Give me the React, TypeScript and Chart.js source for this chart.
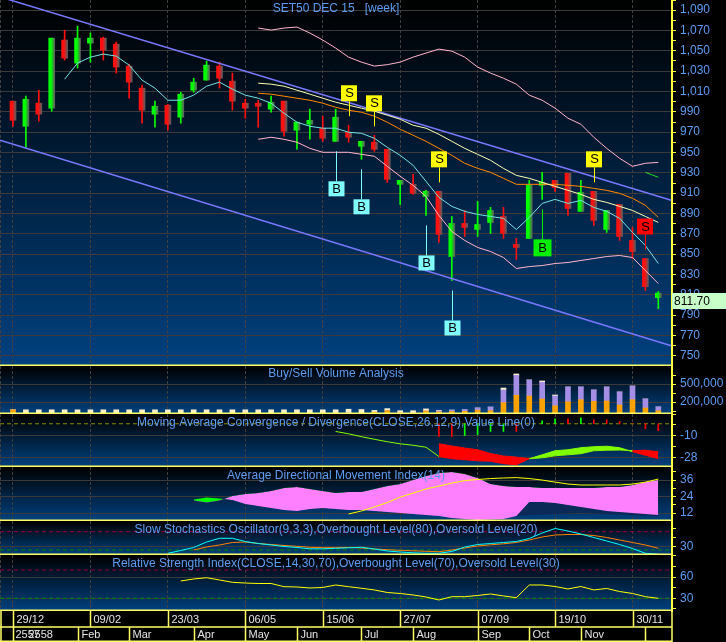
import React, { useEffect, useRef } from 'react';
import { Chart, registerables } from 'chart.js';

Chart.register(...registerables);

const FONT = "'Liberation Sans', Arial, Helvetica, sans-serif";
const W = 726;
const AXIS_W = 54;
const YELLOW = '#ffff40';
const SEP = '#ffff66';
const GRID = '#3a3a3a';
const GRID_V = '#404040';
const LABEL = '#5b9cf0';

// ---------------- time axis ----------------
const X_MIN = -1.007;
const X_MAX = 51.06;
const gridWeeks = [-1, 0, 6, 12, 18, 24, 30, 36, 42, 48];
const dateWeeks = [0, 6, 12, 18, 24, 30, 36, 42, 48];
const dateLabels = ['29/12', '09/02', '23/03', '06/05', '15/06', '27/07', '07/09', '19/10', '30/11'];
const monthWeeks = [0, 5, 9, 14, 18, 22, 27, 31, 36, 40, 44, 49];
const monthLabels = ['2558', 'Feb', 'Mar', 'Apr', 'May', 'Jun', 'Jul', 'Aug', 'Sep', 'Oct', 'Nov', ''];
const prevYearLabel = '2557';

// ---------------- weekly candles ----------------
const opens = [1000.5, 975.8, 998.5, 993.6, 1060.6, 1037.9, 1057.6, 1062.5, 1056.6, 1035.0,
  1013.3, 987.7, 996.5, 984.7, 1011.3, 1021.2, 1035.0, 1020.2, 998.5, 998.5,
  992.6, 1000.5, 971.9, 977.8, 973.9, 961.0, 969.9, 956.1, 960.1, 953.2,
  918.7, 918.7, 906.8, 911.8, 847.7, 880.2, 874.3, 881.2, 887.1, 859.5,
  865.5, 917.7, 922.6, 929.5, 892.1, 911.8, 874.3, 898.9, 863.5, 845.7, 807.3];
const highs = [1000.5, 1005.4, 1011.3, 1062.5, 1070.4, 1074.4, 1067.5, 1063.5, 1058.6, 1036.9,
  1016.2, 1000.5, 997.5, 1009.3, 1023.1, 1039.9, 1038.9, 1028.1, 1002.4, 1001.4,
  1005.4, 1000.5, 979.8, 992.6, 985.7, 992.6, 976.8, 961.0, 966.9, 953.2,
  922.6, 928.5, 912.8, 911.8, 887.1, 893.0, 901.9, 896.0, 896.0, 865.5,
  922.6, 930.5, 922.6, 929.5, 922.6, 911.8, 893.0, 898.9, 876.3, 845.7, 813.2];
const lows = [975.8, 955.1, 980.8, 990.6, 1040.9, 1033.0, 1038.9, 1040.9, 1028.1, 1003.4,
  978.8, 974.8, 971.9, 978.8, 1009.3, 1021.2, 1013.3, 991.6, 983.7, 974.8,
  989.6, 966.0, 953.2, 963.0, 961.0, 961.0, 960.1, 943.3, 951.2, 920.6,
  898.9, 908.8, 888.1, 861.5, 824.1, 867.4, 867.4, 870.4, 865.5, 844.8,
  865.5, 903.9, 911.8, 888.1, 892.1, 878.3, 871.4, 863.5, 845.7, 814.2, 796.5];
const closes = [981.7, 1002.4, 987.7, 1062.5, 1042.8, 1062.5, 1062.5, 1050.7, 1034.0, 1019.2,
  991.6, 995.5, 977.8, 1007.4, 1019.2, 1035.9, 1023.1, 1000.5, 993.6, 995.5,
  999.5, 970.9, 979.8, 981.7, 964.0, 984.7, 965.0, 961.0, 953.2, 923.6,
  922.6, 909.8, 911.8, 869.4, 880.2, 876.3, 879.2, 893.0, 870.4, 856.6,
  917.7, 920.6, 915.7, 895.0, 910.8, 883.2, 893.0, 867.4, 852.6, 818.1, 811.7];

// ---------------- overlays ----------------
const maFastStart = 4;
const maFast = [1022.1, 1037.9, 1043.8, 1046.8, 1044.8, 1035.9, 1021.2, 1013.3, 1001.4, 1001.4,
  1006.4, 1015.2, 1019.2, 1012.3, 1006.4, 1003.4, 998.5, 988.6, 979.8, 975.8,
  973.9, 973.9, 969.9, 968.9, 964.0, 955.1, 947.2, 937.4, 921.6, 905.9,
  897.0, 892.1, 889.1, 887.1, 885.2, 874.3, 886.1, 899.9, 903.9, 899.9,
  902.9, 896.0, 892.1, 885.2, 871.4, 858.5, 840.8];
const bandStart = 19;
const bbUpper = [1072.4, 1070.4, 1072.4, 1073.4, 1067.5, 1060.6, 1052.7, 1043.8, 1038.9, 1035.0,
  1036.4, 1038.9, 1043.8, 1047.8, 1051.7, 1049.7, 1043.8, 1034.0, 1028.1, 1023.1,
  1017.2, 1006.4, 1001.4, 993.6, 983.7, 977.8, 965.0, 954.1, 944.3, 936.4, 939.4, 940.3];
const bbLower = [963.0, 965.0, 963.0, 960.1, 954.1, 950.2, 950.2, 950.2, 948.2, 946.3,
  936.4, 926.6, 917.7, 906.8, 888.1, 872.3, 863.5, 856.6, 852.6, 846.7,
  835.9, 837.8, 838.8, 840.8, 841.8, 843.8, 845.7, 847.7, 848.7, 846.7, 833.9, 821.1];
const maSlow = [1008.3, 1007.4, 1005.4, 1003.4, 1001.4, 998.5, 994.5, 991.6, 989.6, 985.7,
  979.8, 972.9, 967.0, 961.0, 954.1, 947.2, 939.4, 934.4, 930.5, 924.6,
  918.7, 918.7, 918.7, 918.7, 917.7, 916.7, 914.7, 912.8, 909.8, 904.9, 898.0, 886.1];
const maMid = [1018.2, 1017.2, 1015.2, 1011.3, 1007.4, 1003.4, 999.5, 996.5, 993.6, 990.6,
  986.7, 982.7, 976.8, 973.9, 967.9, 961.0, 954.1, 948.2, 942.3, 934.4,
  927.5, 924.6, 920.6, 916.7, 912.8, 908.8, 903.9, 900.9, 897.0, 893.0, 887.1, 881.2];
const greenSegStart = 49;
const greenSeg = [930.5, 925.6];
const trendWeeks = [-1, 51];
const trendUpper = [1103.0, 903.1];
const trendLower = [962.0, 759.9];

// signals
const sellIdx = [26, 28, 33, 45, 49];
const sellStrong = [false, false, false, false, true];
const buyIdx = [25, 27, 32, 34, 41];
const buyStrong = [false, false, false, false, true];

// ---------------- volume (thousands) ----------------
const volOrange = [70, 0, 0, 0, 0, 0, 0, 0, 0, 0, 0, 0, 0, 0, 0, 0, 0, 0, 0, 0, 0, 0, 0, 0, 0, 0,
  10, 0, 30, 55, 20, 10, 50, 35, 40, 45, 65, 55, 188, 312, 300, 250, 138, 205, 238, 212, 217, 150, 238, 100, 55];
const volPurple = [0, 0, 0, 0, 0, 0, 0, 0, 0, 0, 0, 0, 0, 0, 0, 0, 0, 0, 0, 0, 0, 0, 0, 0, 0, 0,
  10, 5, 0, 0, 5, 5, 0, 15, 25, 25, 35, 60, 212, 333, 267, 278, 162, 245, 212, 188, 233, 217, 228, 150, 62];
const volCream = [0, 70, 70, 70, 70, 70, 70, 70, 70, 70, 70, 70, 70, 70, 70, 70, 70, 70, 70, 70, 70, 70, 70, 70, 70, 70,
  60, 70, 30, 35, 30, 40, 35, 10, 0, 0, 0, 0, 33, 22, 0, 22, 17, 0, 0, 0, 0, 0, 0, 0, 0];

// ---------------- MACD ----------------
const macdStart = 25;
const macd = [-6.3, -8.2, -10.6, -12.7, -14.7, -16.4, -17.6, -19.2, -26.8, -28.6,
  -29.5, -30.3, -30.7, -32.7, -33.6, -28.6, -25.4, -22.1, -21.3, -19.6,
  -18.8, -18.4, -19.6, -22.9, -25.8, -28.6];
const signalStart = 33;
const signal = [-16.4, -18.2, -19.9, -21.3, -24.4, -26.4, -27.3, -28.6, -27.9, -26.2,
  -25.4, -24.5, -22.1, -21.7, -21.5, -22.0, -21.7, -22.9];
const histStart = 33;
const hist = [-10.4, -10.4, -9.6, -9.0, -6.3, -6.3, -6.3, 0, 2.5, 4.1, 4.1, 4.9, 3.3, 3.3, 1.9, 0, -4.1, -5.7];
const histUp = [false, false, true, true, true, true, false, false, true, true, false, true, false, false, false, false, false, false];
const macdZero = 0;

// ---------------- ADX ----------------
const diStart = 14;
const diPlus = [21.8, 23.3, 22.5, 21.5, 18.5, 17.1, 15.6, 14.2, 13.5, 14.9,
  15.6, 14.9, 14.2, 14.2, 13.5, 12.7, 12.0, 11.3, 10.5, 9.8,
  8.4, 7.6, 6.9, 7.3, 7.6, 9.8, 20.0, 20.0, 19.3, 17.8,
  16.4, 14.9, 13.5, 12.7, 12.0, 11.3, 10.5];
const diMinus = [21.1, 19.6, 21.1, 24.4, 25.8, 26.5, 28.0, 30.2, 30.9, 29.5,
  28.0, 26.5, 27.3, 27.3, 29.5, 31.6, 33.1, 36.0, 38.9, 41.1,
  41.8, 40.4, 37.5, 33.1, 31.6, 30.9, 30.9, 30.2, 30.2, 30.2,
  30.2, 30.2, 30.9, 30.9, 32.4, 34.5, 36.0];
const adxStart = 26;
const adx = [11.3, 13.5, 16.4, 19.6, 23.6, 26.5, 29.5, 31.6, 33.8, 35.6,
  36.4, 37.1, 37.5, 37.8, 37.1, 36.0, 34.5, 33.1, 32.4, 32.4,
  32.4, 32.4, 33.1, 34.5, 36.7];
const adxrStart = 39;
const adxr = [9.8, 10.5, 10.9, 11.3, 11.6, 12.0, 11.6, 11.3, 10.9, 10.5, 10.2, 9.8];

// ---------------- Stochastics ----------------
const stochKStart = 12;
const stochK = [9.2, 18.4, 28.2, 46.2, 58.4, 58.4, 47.9, 41.3, 36.4, 31.5,
  28.2, 23.9, 23.9, 25.6, 27.2, 28.9, 23.3, 16.7, 13.4, 10.8,
  9.2, 9.2, 15.1, 29.8, 38.0, 41.3, 44.6, 47.9, 57.7, 75.7,
  90.5, 82.3, 72.5, 61.0, 49.5, 38.0, 24.9, 9.2, 5.9];
const stochDStart = 14;
const stochD = [20.0, 29.8, 36.4, 44.6, 46.2, 41.3, 38.0, 34.8, 32.1, 28.9,
  27.5, 27.5, 28.2, 26.6, 23.3, 21.0, 19.0, 17.4, 15.7, 14.4,
  20.0, 26.6, 33.1, 37.0, 40.3, 44.6, 52.8, 62.6, 69.2, 70.8,
  70.8, 67.5, 61.0, 52.8, 44.6, 36.4, 25.6];
const stochLevels = [80, 20];

// ---------------- RSI ----------------
const rsiStart = 13;
const rsi = [54.5, 57.3, 59.1, 55.9, 52.6, 51.6, 50.9, 50.9, 46.4, 46.0,
  44.6, 45.3, 48.8, 46.4, 44.2, 41.8, 38.2, 36.8, 34.7, 31.9,
  27.6, 32.3, 32.3, 34.0, 36.1, 33.3, 30.9, 48.8, 48.8, 46.7,
  43.2, 46.7, 41.8, 43.9, 39.6, 36.8, 32.3, 30.0];
const rsiLevels = [70, 30];

// ================= helpers =================
const pts = (start: number, arr: number[]) => arr.map((y, j) => ({ x: start + j, y }));
const level = (v: number) => [{ x: X_MIN, y: v }, { x: X_MAX, y: v }];
const UP = '#00ff00';
const DOWN = '#ff1010';
const isUp = (i: number) => closes[i] >= opens[i];

const noPad = (s: any) => {
  s.paddingTop = 0;
  s.paddingBottom = 0;
  s.paddingLeft = 0;
  s.paddingRight = 0;
};

function makeX() {
  return {
    type: 'linear', min: X_MIN, max: X_MAX, offset: false, bounds: 'data',
    afterBuildTicks: (s: any) => { s.ticks = gridWeeks.map((v) => ({ value: v })); },
    afterFit: (s: any) => { s.height = 0; noPad(s); },
    ticks: { display: false },
    grid: { color: GRID_V, lineWidth: 1, drawTicks: false, offset: false },
    border: { display: false, dash: [3, 2] },
  };
}

function makeY(min: number, max: number, tickVals: number[], labelVals: number[], fmt: (v: number) => string, extra: any = {}) {
  return {
    type: 'linear', position: 'right', min, max, bounds: 'data', offset: false,
    afterBuildTicks: (s: any) => { s.ticks = tickVals.map((v) => ({ value: v })); },
    afterFit: (s: any) => { s.width = AXIS_W; noPad(s); },
    ticks: {
      display: true, autoSkip: false, color: LABEL, font: { family: FONT, size: 12 }, padding: 4,
      callback: (v: any) => (labelVals.indexOf(Number(v)) >= 0 ? fmt(Number(v)) : ''),
    },
    grid: {
      color: (c: any) => (c.tick && labelVals.indexOf(c.tick.value) >= 0 ? GRID : 'rgba(0,0,0,0)'),
      tickColor: YELLOW, tickLength: 4, lineWidth: 1, drawTicks: true,
    },
    border: { display: true, color: YELLOW, width: 2 },
    ...extra,
  };
}

function deco(title: string, titleY: number, after?: (chart: any) => void, last?: (chart: any) => void) {
  return {
    id: 'deco',
    beforeDraw(chart: any) {
      const { ctx, chartArea: a } = chart;
      const g = ctx.createLinearGradient(0, a.top, 0, a.bottom);
      g.addColorStop(0, '#000000');
      g.addColorStop(1, '#00417f');
      ctx.save();
      ctx.fillStyle = g;
      ctx.fillRect(a.left, a.top, a.right - a.left, a.bottom - a.top);
      ctx.restore();
    },
    afterDatasetsDraw(chart: any) {
      const { ctx, chartArea: a } = chart;
      if (after) after(chart);
      ctx.save();
      ctx.font = `12px ${FONT}`;
      ctx.fillStyle = LABEL;
      ctx.textAlign = 'center';
      ctx.textBaseline = 'middle';
      ctx.fillText(title, (a.left + a.right) / 2, a.top + titleY);
      ctx.restore();
    },
    afterDraw(chart: any) {
      const { ctx, chartArea: a } = chart;
      ctx.save();
      ctx.strokeStyle = SEP;
      ctx.lineWidth = 1.5;
      ctx.beginPath();
      ctx.moveTo(a.left, a.bottom - 0.75);
      ctx.lineTo(a.right, a.bottom - 0.75);
      ctx.stroke();
      ctx.restore();
      if (last) last(chart);
    },
  };
}

function config(datasets: any[], y: any, plugin: any, opts: any = {}) {
  const x: any = makeX();
  if (opts.stacked) x.stacked = true;
  return {
    type: opts.type || 'line',
    data: { datasets },
    options: {
      responsive: false, maintainAspectRatio: false, animation: false, devicePixelRatio: 1, events: [],
      layout: { padding: { top: 0, left: 0, right: 0, bottom: opts.bottomPad || 0 }, autoPadding: false },
      plugins: { legend: { display: false }, tooltip: { enabled: false }, colors: { enabled: false } },
      scales: { x, y },
    },
    plugins: [plugin],
  };
}

const line = (data: any[], color: any, width: number, extra: any = {}) => ({
  type: 'line', data, borderColor: color, borderWidth: width, pointRadius: 0, pointHoverRadius: 0,
  fill: false, tension: 0, ...extra,
});
const bar = (data: any[], color: any, thick: number, extra: any = {}) => ({
  type: 'bar', data, backgroundColor: color, barThickness: thick, grouped: false, borderWidth: 0, ...extra,
});

// ================= panels =================
function drawSignals(chart: any) {
  const { ctx } = chart;
  const xs = chart.scales.x;
  const ys = chart.scales.y;
  ctx.save();
  ctx.font = `13px ${FONT}`;
  ctx.textAlign = 'center';
  ctx.textBaseline = 'middle';
  ctx.lineWidth = 1;
  sellIdx.forEach((i, k) => {
    const col = sellStrong[k] ? '#ff0000' : '#ffff00';
    const px = Math.round(xs.getPixelForValue(i)) + 0.5;
    const hy = ys.getPixelForValue(highs[i]);
    ctx.strokeStyle = col;
    ctx.beginPath();
    ctx.moveTo(px, hy - 9);
    ctx.lineTo(px, hy - 24);
    ctx.stroke();
    ctx.fillStyle = col;
    ctx.fillRect(px - 8.5, hy - 40, 16, 16);
    ctx.fillStyle = '#000';
    ctx.fillText('S', px, hy - 31.5);
  });
  buyIdx.forEach((i, k) => {
    const col = buyStrong[k] ? '#00ee00' : '#80ffff';
    const sz = buyStrong[k] ? 18 : 16;
    const px = Math.round(xs.getPixelForValue(i)) + 0.5;
    const ly = ys.getPixelForValue(lows[i]);
    ctx.strokeStyle = col;
    ctx.beginPath();
    ctx.moveTo(px, ly + 10);
    ctx.lineTo(px, ly + 40);
    ctx.stroke();
    ctx.fillStyle = col;
    ctx.fillRect(px - sz / 2, ly + 40, sz, sz - 1);
    ctx.fillStyle = '#000';
    ctx.fillText('B', px, ly + 40 + sz / 2);
  });
  ctx.restore();
}

function drawLastClose(chart: any) {
  const { ctx, chartArea: a } = chart;
  const ys = chart.scales.y;
  const v = closes[closes.length - 1];
  const y = Math.round(ys.getPixelForValue(v));
  ctx.save();
  ctx.fillStyle = '#c8ffc8';
  ctx.fillRect(a.right, y, W - a.right, 16);
  ctx.fillStyle = '#000';
  ctx.font = `12px ${FONT}`;
  ctx.textAlign = 'left';
  ctx.textBaseline = 'middle';
  ctx.fillText(v.toFixed(2), a.right + 2, y + 8.5);
  ctx.restore();
}

const bodyFill = (c: any) => {
  const i = c.dataIndex;
  const base = isUp(i) ? UP : DOWN;
  const xs = c.chart && c.chart.scales && c.chart.scales.x;
  if (!xs || c.type !== 'data') return base;
  const px = xs.getPixelForValue(i);
  if (!isFinite(px)) return base;
  const g = c.chart.ctx.createLinearGradient(px - 3, 0, px + 3, 0);
  g.addColorStop(0, base);
  g.addColorStop(0.4, base);
  g.addColorStop(1, '#5c5c5c');
  return g;
};

function mainConfig() {
  const idx = closes.map((_, i) => i);
  const datasets = [
    bar(idx.map((i) => ({ x: i, y: [lows[i], highs[i]] })), (c: any) => (isUp(c.dataIndex) ? UP : DOWN), 1, { order: 30 }),
    bar(idx.map((i) => ({ x: i, y: [opens[i], closes[i]] })), bodyFill, 6, { order: 29, minBarLength: 1 }),
    line(trendWeeks.map((x, k) => ({ x, y: trendUpper[k] })), '#7878ff', 1.5, { order: 20 }),
    line(trendWeeks.map((x, k) => ({ x, y: trendLower[k] })), '#7878ff', 1.5, { order: 20 }),
    line(pts(bandStart, bbUpper), '#ffb6cc', 1, { order: 15 }),
    line(pts(bandStart, bbLower), '#ffb6cc', 1, { order: 15 }),
    line(pts(bandStart, maSlow), '#ff8a00', 1, { order: 14 }),
    line(pts(bandStart, maMid), '#ffffb4', 1, { order: 13 }),
    line(pts(maFastStart, maFast), '#70e4e4', 1, { order: 12 }),
    line(pts(greenSegStart, greenSeg), '#22dd22', 1, { order: 11 }),
  ];
  const ticks: number[] = [];
  for (let v = 740; v <= 1100; v += 10) ticks.push(v);
  const labels = ticks.filter((v) => (v - 750) % 20 === 0 && v >= 750 && v <= 1090);
  const y = makeY(740, 1100, ticks, labels, (v) => v.toLocaleString('en-US'));
  return config(datasets, y, deco('SET50 DEC 15   [week]', 9, drawSignals, drawLastClose));
}

function volumeConfig() {
  const datasets = [
    bar(pts(0, volOrange), '#ffa200', 5, { stack: 'v', order: 1 }),
    bar(pts(0, volPurple), '#a48ee6', 5, { stack: 'v', order: 1 }),
    bar(pts(0, volCream), '#fbefcc', 5, { stack: 'v', order: 1 }),
  ];
  const y = makeY(0, 800, [50, 200, 350, 500, 650], [200, 500], (v) => (v * 1000).toLocaleString('en-US'), { stacked: true });
  return config(datasets, y, deco('Buy/Sell Volume Analysis', 8), { stacked: true });
}

const LIME = '#80ff00';
const RED = '#ff0000';
const macdAt = (i: number) => macd[i - macdStart];
const sigAt = (i: number) => signal[i - signalStart];
const crossColor = (s: any) => {
  const i0 = s.p0.parsed.x;
  const i1 = s.p1.parsed.x;
  return macdAt(i0) + macdAt(i1) - sigAt(i0) - sigAt(i1) >= 0 ? LIME : RED;
};

function macdConfig() {
  const datasets = [
    line(level(macdZero), '#8a8a00', 1, { borderDash: [4, 3], order: 10 }),
    bar(pts(histStart, hist), (c: any) => (histUp[c.dataIndex] ? '#00ff00' : '#ff0000'), 1, { order: 9 }),
    line(pts(macdStart, macd.slice(0, signalStart - macdStart + 1)), LIME, 1, { order: 5 }),
    line(pts(signalStart, macd.slice(signalStart - macdStart)), LIME, 1, {
      order: 4, fill: { target: 4, above: LIME, below: RED }, segment: { borderColor: crossColor },
    }),
    line(pts(signalStart, signal), RED, 1, { order: 3, segment: { borderColor: crossColor } }),
  ];
  const y = makeY(-35.4, 8.0, [-28, -19, -10, -1, 8], [-10, -28], (v) => String(v));
  return config(datasets, y, deco('Moving Average Convergence / Divergence(CLOSE,26,12,9),Value Line(0)', 9));
}

function adxConfig() {
  const datasets = [
    line(pts(diStart, diPlus), 'rgba(0,0,0,0)', 1, { order: 3, fill: { target: 1, above: '#00ff00', below: '#ff80ff' } }),
    line(pts(diStart, diMinus), 'rgba(0,0,0,0)', 1, { order: 4 }),
    line(pts(adxStart, adx), '#ffff00', 1, { order: 1 }),
    line(pts(adxrStart, adxr), 'rgba(0,0,0,0)', 1, { order: 5, fill: { target: 0, above: '#0b2a58', below: '#0b2a58' } }),
  ];
  const y = makeY(6.2, 45.5, [12, 18, 24, 30, 36, 42], [12, 24, 36], (v) => String(v));
  return config(datasets, y, deco('Average Directional Movement Index(14)', 9));
}

function stochConfig() {
  const datasets = [
    line(level(stochLevels[0]), '#900048', 1, { borderDash: [4, 3], order: 10 }),
    line(level(stochLevels[1]), '#008a00', 1, { borderDash: [4, 3], order: 10 }),
    line(pts(stochDStart, stochD), '#ff8000', 1, { order: 3 }),
    line(pts(stochKStart, stochK), '#00ffff', 1, { order: 2 }),
  ];
  const y = makeY(3.6, 115.1, [30, 60, 90], [30], (v) => String(v));
  return config(datasets, y, deco('Slow Stochastics Oscillator(9,3,3),Overbought Level(80),Oversold Level(20)', 9));
}

function drawTimeRows(chart: any) {
  const { ctx, chartArea: a } = chart;
  const xs = chart.scales.x;
  const top = a.bottom;
  const mid = top + 16;
  const bot = chart.height;
  const px = (w: number) => Math.round(xs.getPixelForValue(w)) + 0.5;
  ctx.save();
  ctx.strokeStyle = SEP;
  ctx.lineWidth = 1.5;
  ctx.beginPath();
  ctx.moveTo(0, mid);
  ctx.lineTo(a.right, mid);
  ctx.moveTo(0, bot - 0.75);
  ctx.lineTo(a.right, bot - 0.75);
  ctx.moveTo(1, top);
  ctx.lineTo(1, bot);
  ctx.moveTo(a.right, top);
  ctx.lineTo(a.right, bot);
  dateWeeks.forEach((w) => { ctx.moveTo(px(w), top); ctx.lineTo(px(w), mid); });
  monthWeeks.forEach((w) => { ctx.moveTo(px(w), mid); ctx.lineTo(px(w), bot); });
  ctx.stroke();
  ctx.fillStyle = '#e4e4e4';
  ctx.font = `11px ${FONT}`;
  ctx.textAlign = 'left';
  ctx.textBaseline = 'middle';
  dateWeeks.forEach((w, k) => ctx.fillText(dateLabels[k], px(w) + 3, top + 8.5));
  ctx.fillText(prevYearLabel, px(monthWeeks[0]) + 2, mid + 8);
  monthWeeks.forEach((w, k) => ctx.fillText(monthLabels[k], px(w) + (k === 0 ? 15 : 3), mid + 8));
  ctx.restore();
}

function rsiConfig() {
  const datasets = [
    line(level(rsiLevels[0]), '#900048', 1, { borderDash: [4, 3], order: 10 }),
    line(level(rsiLevels[1]), '#008a00', 1, { borderDash: [4, 3], order: 10 }),
    line(pts(rsiStart, rsi), '#ffff00', 1, { order: 2 }),
  ];
  const y = makeY(12.05, 91.2, [15, 30, 45, 60, 75, 90], [30, 60], (v) => String(v));
  return config(
    datasets, y,
    deco('Relative Strength Index(CLOSE,14,30,70),Overbought Level(70),Oversold Level(30)', 9, undefined, drawTimeRows),
    { bottomPad: 31 },
  );
}

function ChartPanel({ top, height, make }: { top: number; height: number; make: () => any }) {
  const ref = useRef<HTMLCanvasElement | null>(null);
  useEffect(() => {
    if (!ref.current) return;
    const chart = new Chart(ref.current, make());
    return () => chart.destroy();
  }, []);
  return (
    <div style={{ position: 'absolute', left: 0, top, width: W, height }}>
      <canvas ref={ref} width={W} height={height} style={{ display: 'block' }} />
    </div>
  );
}

export default function App() {
  return (
    <div style={{ position: 'fixed', left: 0, top: 0, width: W, height: 642, background: '#000', overflow: 'hidden' }}>
      <ChartPanel top={0} height={366} make={mainConfig} />
      <ChartPanel top={366} height={48} make={volumeConfig} />
      <ChartPanel top={414} height={53} make={macdConfig} />
      <ChartPanel top={467} height={54} make={adxConfig} />
      <ChartPanel top={521} height={34} make={stochConfig} />
      <ChartPanel top={555} height={87} make={rsiConfig} />
    </div>
  );
}
